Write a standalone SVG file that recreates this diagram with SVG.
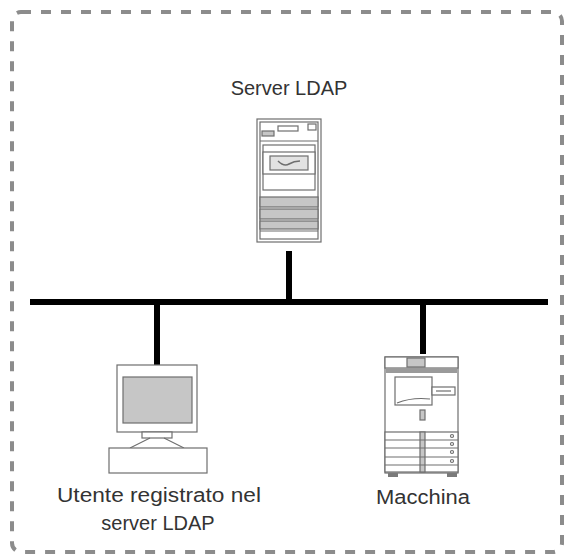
<svg xmlns="http://www.w3.org/2000/svg" width="564" height="557" viewBox="0 0 564 557">
  <style>
    .frame { fill: none; stroke: #8c8c8c; stroke-width: 4; stroke-dasharray: 10 10; }
    .wire { stroke: #000; stroke-width: 6; fill: none; }
    .ol { fill: #fff; stroke: #6e6e6e; stroke-width: 1.2; }
    .ln { fill: none; stroke: #6e6e6e; stroke-width: 1.2; }
    .gr { fill: #c6c6c6; stroke: #6e6e6e; stroke-width: 1.2; }
    .dk { fill: #7a7a7a; stroke: none; }
    .lbl { font-family: "Liberation Sans", Arial, sans-serif; font-size: 20px; fill: #333; text-anchor: middle; }
  </style>

  <!-- dashed enclosure -->
  <rect class="frame" x="12" y="12" width="550" height="540" rx="9"/>

  <!-- network bus and drops -->
  <g id="connectors">
    <line class="wire" x1="30" y1="302" x2="548" y2="302"/>
    <line class="wire" x1="289" y1="251" x2="289" y2="302"/>
    <line class="wire" x1="157" y1="302" x2="157" y2="365"/>
    <line class="wire" x1="423" y1="302" x2="423" y2="354"/>
  </g>

  <!-- LDAP server tower -->
  <g id="server">
    <text class="lbl" x="289" y="95">Server LDAP</text>
    <rect class="ol" x="257" y="119" width="64" height="123"/>
    <rect class="ln" x="260" y="122" width="58" height="117"/>
    <rect class="ol" x="278" y="126" width="20" height="5"/>
    <rect class="ol" x="308" y="124" width="8" height="6"/>
    <rect class="gr" x="262" y="131" width="12" height="5"/>
    <line class="ln" x1="260" y1="141" x2="318" y2="141"/>
    <rect class="ol" x="263" y="145" width="52" height="45"/>
    <rect class="ol" x="263" y="152" width="52" height="22"/>
    <rect class="gr" x="270" y="156" width="38" height="14" style="fill:#e2e2e2"/>
    <path class="ln" d="M278,161 q6,6 11,3 q5,-3 11,-3" style="stroke-width:1.6"/>
    <rect class="gr" x="260" y="197" width="58" height="10"/>
    <rect class="gr" x="260" y="209" width="58" height="10"/>
    <rect class="gr" x="260" y="221" width="58" height="8"/>
    <line class="ln" x1="260" y1="231" x2="318" y2="231"/>
  </g>

  <!-- registered user workstation -->
  <g id="workstation">
    <rect class="ol" x="117" y="365" width="80" height="67"/>
    <rect class="gr" x="123" y="377" width="69" height="46"/>
    <rect class="ol" x="142" y="432" width="30" height="6"/>
    <line class="ln" x1="150" y1="438" x2="130" y2="448"/>
    <line class="ln" x1="164" y1="438" x2="184" y2="448"/>
    <rect class="ol" x="109" y="448" width="98" height="25"/>
    <text class="lbl" x="159" y="502" textLength="204" lengthAdjust="spacingAndGlyphs">Utente registrato nel</text>
    <text class="lbl" x="158" y="530">server LDAP</text>
  </g>

  <!-- multifunction machine -->
  <g id="machine">
    <rect class="ol" x="385" y="357" width="73" height="116"/>
    <rect class="ol" x="385" y="357" width="73" height="11"/>
    <rect class="gr" x="407" y="358" width="18" height="9"/>
    <rect class="dk" x="386" y="368" width="71" height="5" style="fill:#9a9a9a"/>
    <rect class="ol" x="395" y="377" width="37" height="28"/>
    <path class="ln" d="M397,403 q15,-6 33,-4"/>
    <rect class="ol" x="432" y="387" width="23" height="8"/>
    <line class="ln" x1="436" y1="391" x2="451" y2="391"/>
    <rect class="gr" x="420" y="410" width="5" height="10"/>
    <rect class="ol" x="385" y="432" width="73" height="40"/>
    <rect class="gr" x="420" y="432" width="5" height="40"/>
    <line class="ln" x1="385" y1="440" x2="458" y2="440"/>
    <line class="ln" x1="385" y1="448" x2="458" y2="448"/>
    <line class="ln" x1="385" y1="457" x2="458" y2="457"/>
    <line class="ln" x1="385" y1="465" x2="458" y2="465"/>
    <circle class="ol" cx="452" cy="436" r="1.5"/>
    <circle class="ol" cx="452" cy="444" r="1.5"/>
    <circle class="ol" cx="452" cy="452" r="1.5"/>
    <circle class="ol" cx="452" cy="461" r="1.5"/>
    <rect class="dk" x="388" y="473" width="10" height="4"/>
    <rect class="dk" x="447" y="473" width="10" height="4"/>
    <text class="lbl" x="423" y="504" textLength="94" lengthAdjust="spacingAndGlyphs">Macchina</text>
  </g>
</svg>
